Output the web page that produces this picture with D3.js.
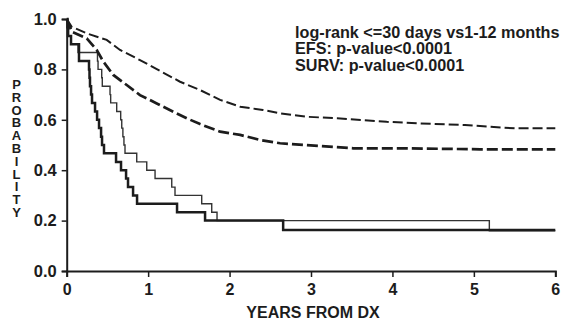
<!DOCTYPE html>
<html>
<head>
<meta charset="utf-8">
<script src="https://cdn.jsdelivr.net/npm/d3@7"></script>
<style>
  html, body { margin: 0; padding: 0; background: #fff; }
  svg { display: block; font-family: "Liberation Sans", Arial, sans-serif; }
  .ytitle { writing-mode: vertical-rl; text-orientation: upright; }
</style>
</head>
<body>
<svg id="chart" width="565" height="322"></svg>
<script>
// Kaplan-Meier curves (years from diagnosis, probability)
const efsLe30Times = [0, 0.01, 0.016, 0.053, 0.151, 0.274, 0.28, 0.286, 0.299, 0.311, 0.348, 0.373, 0.397, 0.422, 0.434, 0.458, 0.606, 0.667, 0.729, 0.753, 0.815, 0.864, 1.355, 1.699, 2.658, 6.0];
const efsLe30Probs = [1, 0.967, 0.933, 0.9, 0.833, 0.8, 0.767, 0.733, 0.7, 0.667, 0.633, 0.6, 0.567, 0.533, 0.5, 0.467, 0.433, 0.4, 0.367, 0.333, 0.3, 0.267, 0.233, 0.2, 0.163, 0.163];

const survLe30Times = [0, 0.01, 0.022, 0.053, 0.139, 0.378, 0.385, 0.43, 0.437, 0.532, 0.54, 0.614, 0.663, 0.676, 0.69, 0.703, 0.716, 0.86, 0.983, 1.085, 1.29, 1.33, 1.658, 1.781, 1.846, 5.19, 6.0];
const survLe30Probs = [1, 0.967, 0.933, 0.9, 0.867, 0.833, 0.8, 0.767, 0.733, 0.7, 0.667, 0.633, 0.6, 0.567, 0.533, 0.5, 0.467, 0.433, 0.4, 0.367, 0.333, 0.3, 0.267, 0.233, 0.2, 0.16, 0.16];

const surv1to12Times = [0, 0.061, 0.246, 0.491, 0.655, 0.9, 1.146, 1.392, 1.638, 1.884, 2.13, 2.41, 2.62, 2.95, 3.32, 3.64, 3.93, 4.3, 4.89, 5.51, 6.0];
const surv1to12Probs = [1, 0.969, 0.943, 0.917, 0.877, 0.837, 0.794, 0.751, 0.718, 0.679, 0.652, 0.639, 0.626, 0.612, 0.606, 0.599, 0.592, 0.586, 0.579, 0.566, 0.566];

const efs1to12Times = [0, 0.03, 0.061, 0.246, 0.369, 0.45, 0.572, 0.737, 0.9, 1.106, 1.31, 1.474, 1.638, 1.884, 2.13, 2.375, 2.62, 3.11, 3.52, 4.09, 5.08, 6.0];
const efs1to12Probs = [1, 0.976, 0.95, 0.923, 0.877, 0.831, 0.778, 0.738, 0.698, 0.665, 0.632, 0.606, 0.583, 0.553, 0.54, 0.52, 0.507, 0.496, 0.487, 0.487, 0.483, 0.483];

const xTicks = [0, 1, 2, 3, 4, 5, 6];
const yTicks = [0, 0.2, 0.4, 0.6, 0.8, 1.0];
const notes = ['log-rank <=30 days vs1-12 months', 'EFS: p-value<0.0001', 'SURV: p-value<0.0001'];
const yTitle = 'PROBABILITY';
const xTitle = 'YEARS FROM DX';

const INK = '#1c1c1c';
const FONT = '"Liberation Sans", Arial, sans-serif';
const width = 565;
const height = 322;
const margin = { top: 19, right: 9.7, bottom: 51, left: 66.7 };
const innerWidth = width - margin.left - margin.right;
const innerHeight = height - margin.top - margin.bottom;

const svg = d3.select('#chart');
const g = svg.append('g').attr('transform', `translate(${margin.left},${margin.top})`);

const x = d3.scaleLinear().domain([0, 6]).range([0, innerWidth]);
const y = d3.scaleLinear().domain([0, 1]).range([innerHeight, 0]);

const zip = (ts, ps) => ts.map((t, i) => [t, ps[i]]);

// Axes
g.append('g')
  .attr('transform', `translate(0,${innerHeight})`)
  .call(d3.axisBottom(x).tickValues(xTicks).tickSize(6).tickPadding(7).tickFormat(d3.format('d')))
  .call((axis) => {
    axis.select('.domain').attr('stroke', INK).attr('stroke-width', 2);
    axis.selectAll('.tick line').attr('stroke', INK).attr('stroke-width', 1.5);
    axis.selectAll('.tick text')
      .attr('fill', INK)
      .attr('font-size', '16px')
      .attr('font-weight', 'bold')
      .attr('font-family', FONT);
  });

g.append('g')
  .call(d3.axisLeft(y).tickValues(yTicks).tickSize(5).tickPadding(5).tickFormat(d3.format('.1f')))
  .call((axis) => {
    axis.select('.domain').attr('stroke', INK).attr('stroke-width', 2);
    axis.selectAll('.tick line').attr('stroke', INK).attr('stroke-width', 1.5);
    axis.selectAll('.tick text')
      .attr('fill', INK)
      .attr('font-size', '16.5px')
      .attr('font-weight', 'bold')
      .attr('font-family', FONT);
  });

// Curves
const stepLine = d3.line().x((d) => x(d[0])).y((d) => y(d[1])).curve(d3.curveStepAfter);
const smoothLine = d3.line().x((d) => x(d[0])).y((d) => y(d[1]));

g.append('path')
  .datum(zip(survLe30Times, survLe30Probs))
  .attr('fill', 'none').attr('stroke', '#333').attr('stroke-width', 1.4)
  .attr('d', stepLine);

g.append('path')
  .datum(zip(efsLe30Times, efsLe30Probs))
  .attr('fill', 'none').attr('stroke', INK).attr('stroke-width', 2.5)
  .attr('d', stepLine);

g.append('path')
  .datum(zip(surv1to12Times, surv1to12Probs))
  .attr('fill', 'none').attr('stroke', INK).attr('stroke-width', 2)
  .attr('stroke-dasharray', '10,4')
  .attr('d', smoothLine);

g.append('path')
  .datum(zip(efs1to12Times, efs1to12Probs))
  .attr('fill', 'none').attr('stroke', INK).attr('stroke-width', 2.7)
  .attr('stroke-dasharray', '11,4')
  .attr('d', smoothLine);

// Annotation
svg.append('g')
  .selectAll('text')
  .data(notes)
  .join('text')
  .attr('x', 295)
  .attr('y', (d, i) => 37.5 + i * 16.8)
  .attr('fill', INK)
  .attr('font-size', '16.2px')
  .attr('font-weight', 'bold')
  .attr('font-family', FONT)
  .text((d) => d);

// Vertical stacked y title as one upright text run
svg.append('text')
  .attr('class', 'ytitle')
  .attr('x', 16.5)
  .attr('y', 77)
  .attr('fill', INK)
  .attr('font-size', '13px')
  .attr('font-weight', 'bold')
  .attr('font-family', FONT)
  .attr('letter-spacing', '-2.2px')
  .text(yTitle);

svg.append('text')
  .attr('x', 313)
  .attr('y', 318)
  .attr('text-anchor', 'middle')
  .attr('fill', INK)
  .attr('font-size', '16px')
  .attr('font-weight', 'bold')
  .attr('font-family', FONT)
  .text(xTitle);
</script>
</body>
</html>
